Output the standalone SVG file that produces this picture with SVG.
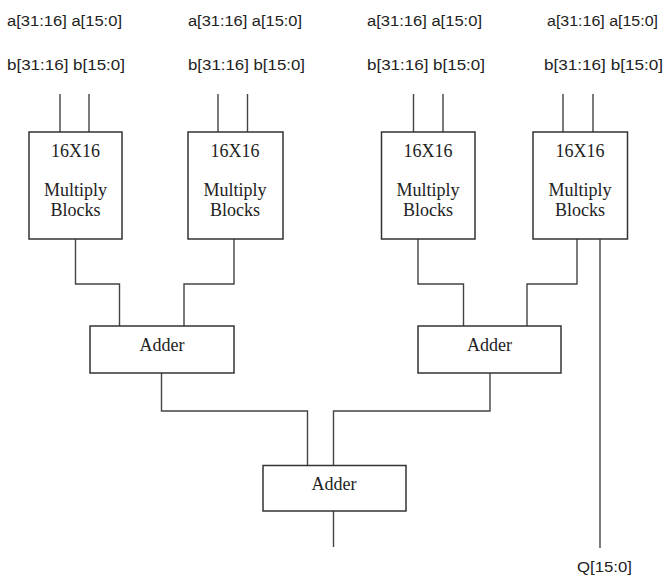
<svg xmlns="http://www.w3.org/2000/svg" width="665" height="578" viewBox="0 0 665 578">
<style>
.box{fill:#fff;stroke:#333;stroke-width:1.5}
.wire{fill:none;stroke:#444;stroke-width:1.4}
.sig{font-family:"Liberation Sans",Arial,sans-serif;font-size:14px;fill:#222}
.lbl{font-family:"Liberation Serif","Times New Roman",serif;font-size:18px;fill:#222;text-anchor:middle}
</style>
<rect width="665" height="578" fill="#fff"/>
<g id="inputs">
<text class="sig" x="7" y="26" textLength="115" lengthAdjust="spacingAndGlyphs">a[31:16] a[15:0]</text>
<text class="sig" x="7" y="70" textLength="118" lengthAdjust="spacingAndGlyphs">b[31:16] b[15:0]</text>
<text class="sig" x="188" y="26" textLength="114" lengthAdjust="spacingAndGlyphs">a[31:16] a[15:0]</text>
<text class="sig" x="188" y="70" textLength="117" lengthAdjust="spacingAndGlyphs">b[31:16] b[15:0]</text>
<text class="sig" x="367" y="26" textLength="115" lengthAdjust="spacingAndGlyphs">a[31:16] a[15:0]</text>
<text class="sig" x="367" y="70" textLength="118" lengthAdjust="spacingAndGlyphs">b[31:16] b[15:0]</text>
<text class="sig" x="547" y="26" textLength="111" lengthAdjust="spacingAndGlyphs">a[31:16] a[15:0]</text>
<text class="sig" x="544" y="70" textLength="119" lengthAdjust="spacingAndGlyphs">b[31:16] b[15:0]</text>
</g>
<g id="connectors">
<path class="wire" d="M60,94V132M89,94V132"/>
<path class="wire" d="M218,94V132M247.5,94V132"/>
<path class="wire" d="M413.5,94V132M443,94V132"/>
<path class="wire" d="M563,94V132M593,94V132"/>
<path class="wire" d="M75.5,239V284H119.5V326"/>
<path class="wire" d="M234,239V284H184V326"/>
<path class="wire" d="M418,239V284H463.5V326"/>
<path class="wire" d="M577,239V284H527V326"/>
<path class="wire" d="M161.5,373V411H307.5V465.5"/>
<path class="wire" d="M490,373V411H333.5V465.5"/>
<path class="wire" d="M333.5,511V547"/>
<path class="wire" d="M600,239V548"/>
</g>
<g id="mult1">
<rect class="box" x="29" y="132" width="93" height="107"/>
<text class="lbl" x="75.5" y="157">16X16</text>
<text class="lbl" x="75.5" y="196">Multiply</text>
<text class="lbl" x="75.5" y="216">Blocks</text>
</g>
<g id="mult2">
<rect class="box" x="188" y="132" width="95" height="107"/>
<text class="lbl" x="235" y="157">16X16</text>
<text class="lbl" x="235" y="196">Multiply</text>
<text class="lbl" x="235" y="216">Blocks</text>
</g>
<g id="mult3">
<rect class="box" x="381.5" y="132" width="93.5" height="107"/>
<text class="lbl" x="428" y="157">16X16</text>
<text class="lbl" x="428" y="196">Multiply</text>
<text class="lbl" x="428" y="216">Blocks</text>
</g>
<g id="mult4">
<rect class="box" x="533" y="132" width="94.5" height="107"/>
<text class="lbl" x="580" y="157">16X16</text>
<text class="lbl" x="580" y="196">Multiply</text>
<text class="lbl" x="580" y="216">Blocks</text>
</g>
<g id="adder1">
<rect class="box" x="90" y="326" width="144" height="47"/>
<text class="lbl" x="162" y="351">Adder</text>
</g>
<g id="adder2">
<rect class="box" x="418" y="326" width="143" height="47"/>
<text class="lbl" x="489.5" y="351">Adder</text>
</g>
<g id="adder3">
<rect class="box" x="263" y="465.5" width="143" height="45.5"/>
<text class="lbl" x="334" y="490">Adder</text>
</g>
<g id="output">
<text class="sig" x="577" y="572" textLength="55" lengthAdjust="spacingAndGlyphs">Q[15:0]</text>
</g>
</svg>
